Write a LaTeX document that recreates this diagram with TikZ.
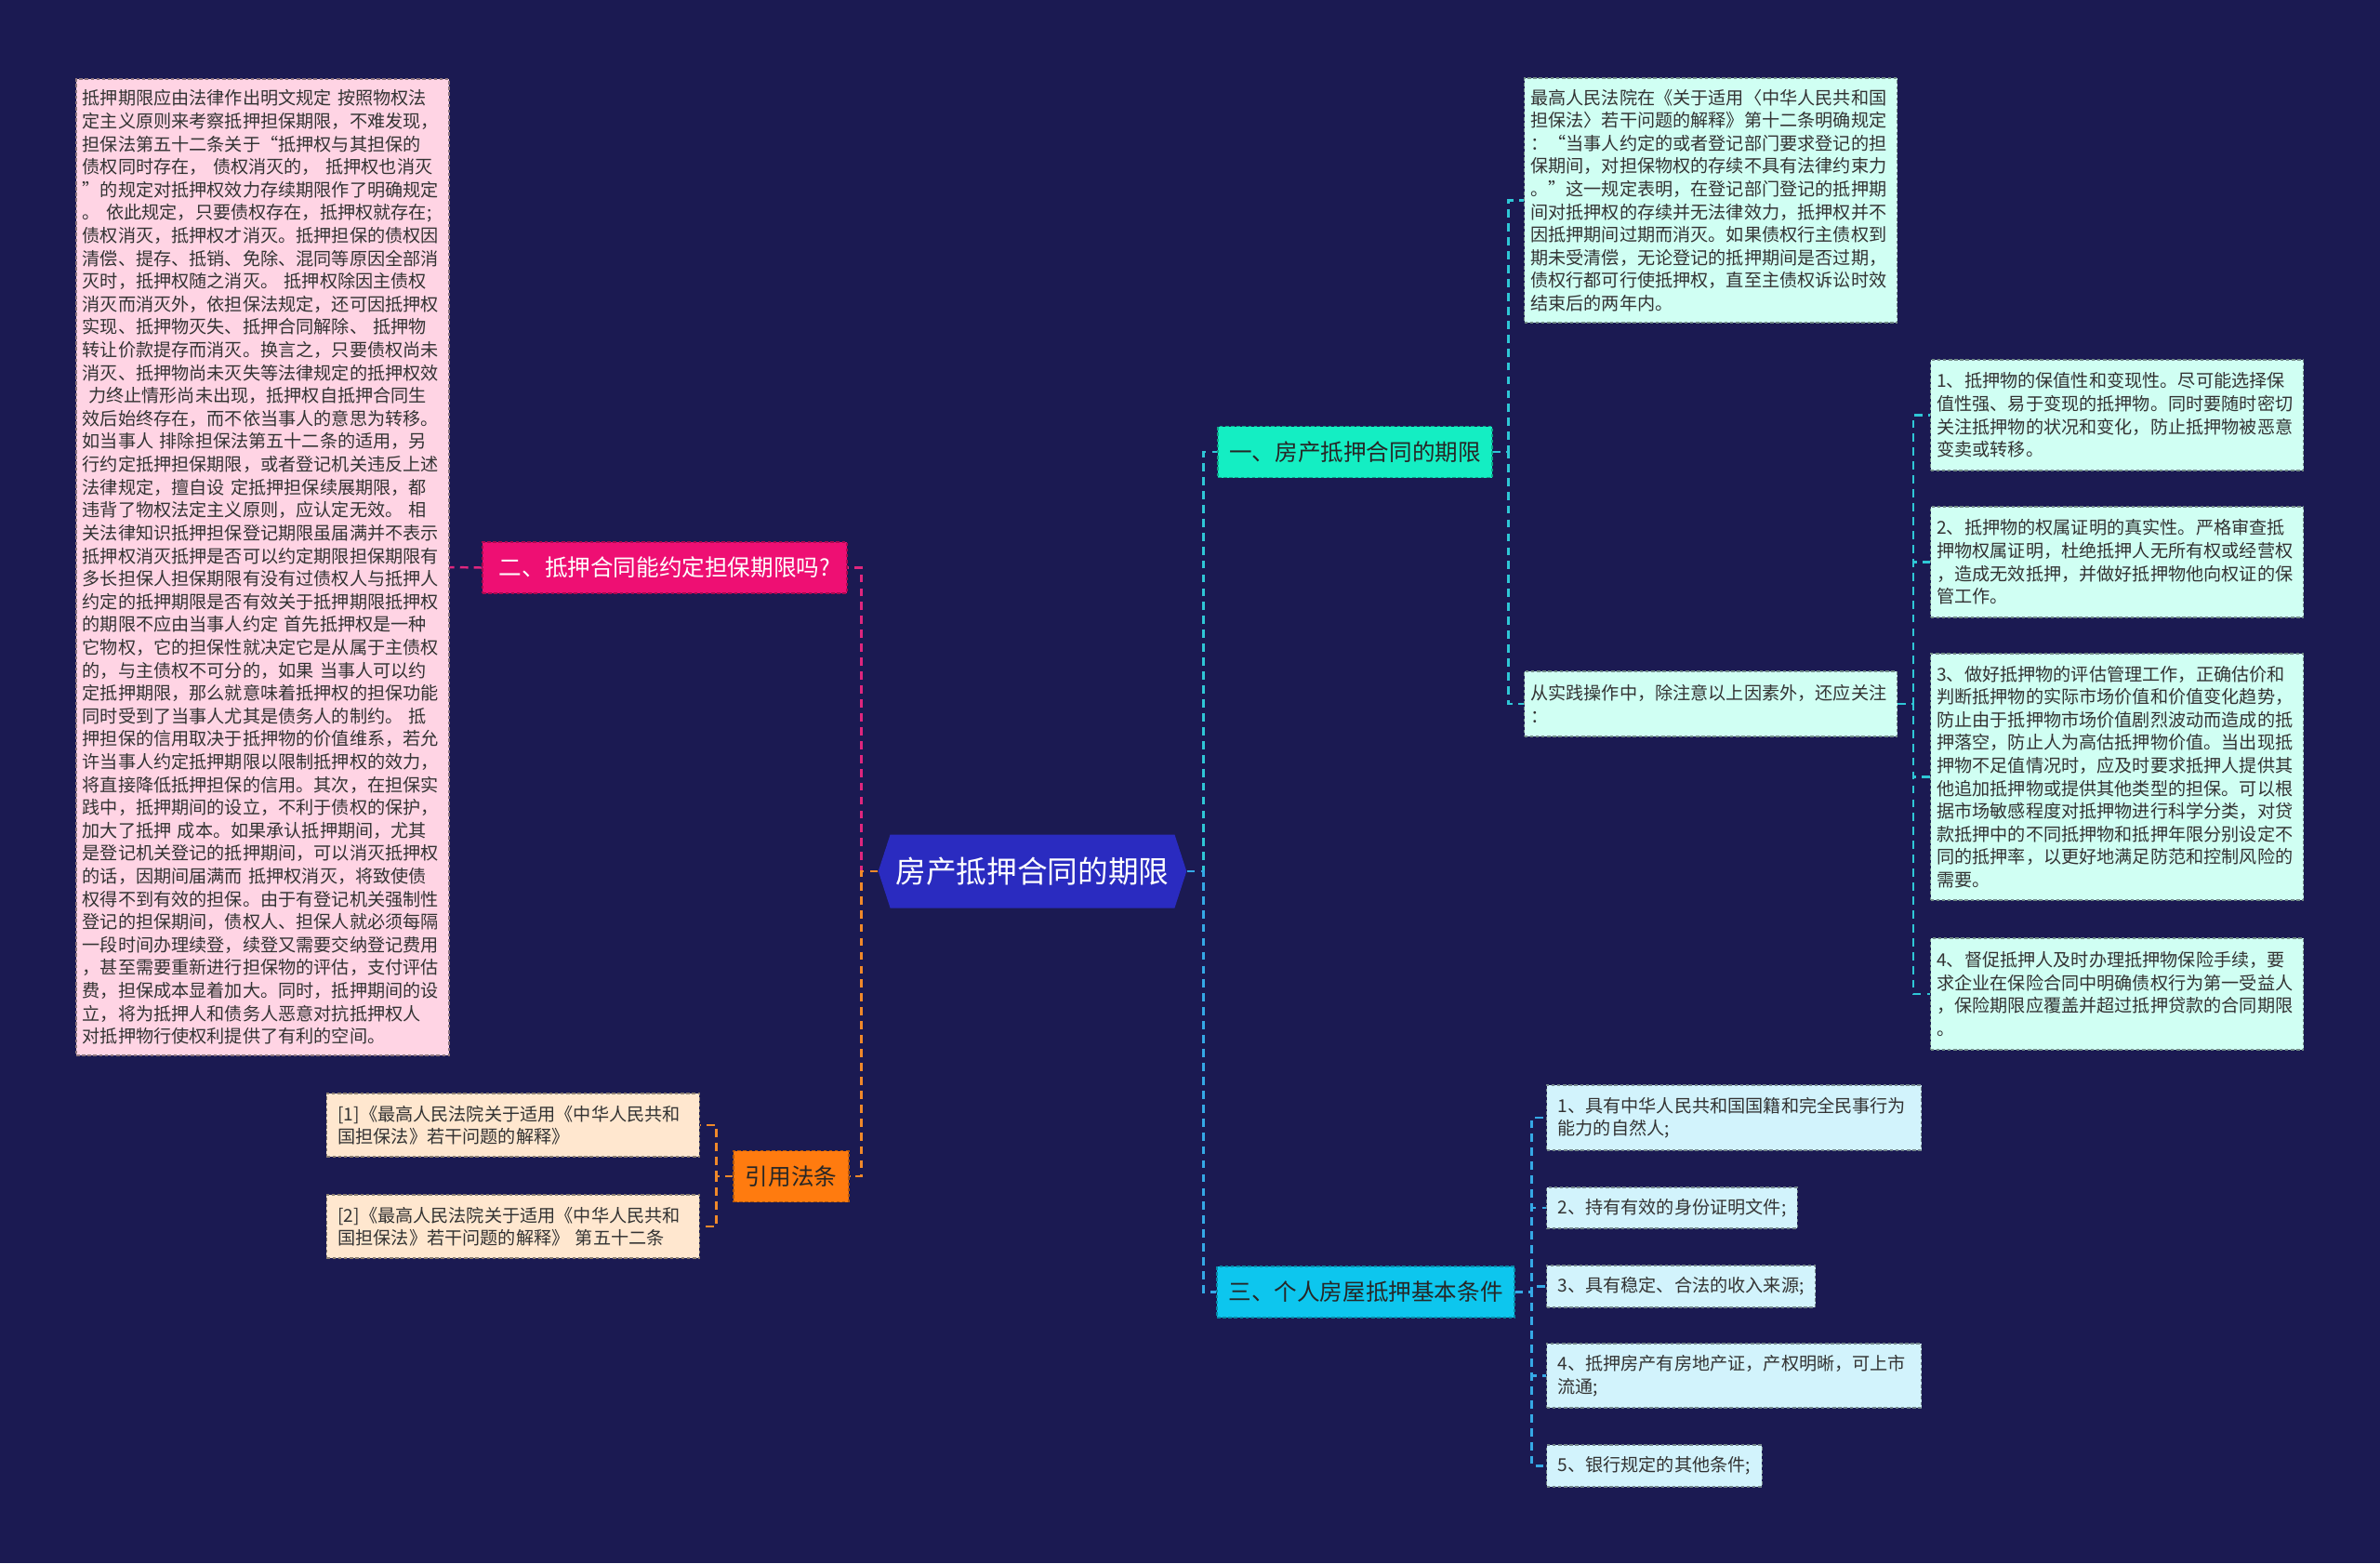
\documentclass[tikz,border=0pt]{standalone}
\usepackage{fontspec}
\setmainfont{Noto Sans CJK SC}
\usetikzlibrary{shapes.symbols}
\definecolor{bgnavy}{HTML}{1B1A52}
\definecolor{rootblue}{HTML}{2A2BC0}
\definecolor{secmint}{HTML}{14EEC3}
\definecolor{secpink}{HTML}{EE0F73}
\definecolor{secorange}{HTML}{FF7B0F}
\definecolor{seccyan}{HTML}{0DC6EE}
\definecolor{memopink}{HTML}{FFD4E4}
\definecolor{memomint}{HTML}{D0FFF3}
\definecolor{memosky}{HTML}{D2F3FC}
\definecolor{memopeach}{HTML}{FFE7CF}
\definecolor{txtdark}{HTML}{333333}
\definecolor{linkteal}{HTML}{2FC7D6}
\definecolor{linksky}{HTML}{35A9E6}
\definecolor{linkpink}{HTML}{E0267E}
\definecolor{linkorange}{HTML}{F0892A}

\begin{document}
\begin{tikzpicture}[
  link/.style={line width=1.4pt, dash pattern=on 5pt off 3.5pt},
  topic/.style={draw, dash pattern=on 2pt off 1.5pt, line width=0.6pt,
    minimum height=1.1cm, inner xsep=0.2cm, text=black!85,
    font=\fontsize{14}{16}\selectfont},
  memo/.style={draw, dash pattern=on 2pt off 1.5pt, line width=0.6pt,
    align=left, inner xsep=0.24cm, inner ysep=0.2cm, text=txtdark,
    font=\fontsize{10.9}{14}\selectfont},
  longmemo/.style={memo, text width=7.75cm, inner xsep=0.135cm}
]
  \useasboundingbox (0,0) rectangle (51.2,-33.62);
  \fill[bgnavy] (0,0) rectangle (51.2,-33.62);

  % Root
  \node[shape=signal, signal to=east and west, signal pointer angle=144,
    fill=rootblue, text=white,
    minimum width=6.54cm, minimum height=1.58cm,
    font=\fontsize{18.6}{20}\selectfont] (root) at (22.21,-18.74)
    {房产抵押合同的期限};

  % Main topics
  \node[topic, fill=secmint, draw=secmint!70!black, minimum width=5.9cm]
    (sec1) at (29.15,-9.72) {一、房产抵押合同的期限};
  \node[topic, fill=secpink, draw=secpink!70!black, text=white,
    minimum width=7.84cm] (sec2) at (14.30,-12.21) {二、抵押合同能约定担保期限吗?};
  \node[topic, fill=seccyan, draw=seccyan!70!black, minimum width=6.4cm]
    (sec3) at (29.38,-27.79) {三、个人房屋抵押基本条件};
  \node[topic, fill=secorange, draw=secorange!70!black, minimum width=2.48cm]
    (cite) at (17.02,-25.30) {引用法条};

  % Section 2 text
  \node[longmemo, fill=memopink, draw=memopink!55!black, minimum height=21cm]
    (p1) at (5.65,-12.2) {抵押期限应由法律作出明文规定 按照物权法\\
定主义原则来考察抵押担保期限，不难发现，\\
担保法第五十二条关于“抵押权与其担保的\\
债权同时存在， 债权消灭的， 抵押权也消灭\\
”的规定对抵押权效力存续期限作了明确规定\\
。 依此规定，只要债权存在，抵押权就存在;\\
债权消灭，抵押权才消灭。抵押担保的债权因\\
清偿、提存、抵销、免除、混同等原因全部消\\
灭时，抵押权随之消灭。 抵押权除因主债权\\
消灭而消灭外，依担保法规定，还可因抵押权\\
实现、抵押物灭失、抵押合同解除、 抵押物\\
转让价款提存而消灭。换言之，只要债权尚未\\
消灭、抵押物尚未灭失等法律规定的抵押权效\\
\ 力终止情形尚未出现，抵押权自抵押合同生\\
效后始终存在，而不依当事人的意思为转移。\\
如当事人 排除担保法第五十二条的适用，另\\
行约定抵押担保期限，或者登记机关违反上述\\
法律规定，擅自设 定抵押担保续展期限，都\\
违背了物权法定主义原则，应认定无效。 相\\
关法律知识抵押担保登记期限虽届满并不表示\\
抵押权消灭抵押是否可以约定期限担保期限有\\
多长担保人担保期限有没有过债权人与抵押人\\
约定的抵押期限是否有效关于抵押期限抵押权\\
的期限不应由当事人约定 首先抵押权是一种\\
它物权，它的担保性就决定它是从属于主债权\\
的，与主债权不可分的，如果 当事人可以约\\
定抵押期限，那么就意味着抵押权的担保功能\\
同时受到了当事人尤其是债务人的制约。 抵\\
押担保的信用取决于抵押物的价值维系，若允\\
许当事人约定抵押期限以限制抵押权的效力，\\
将直接降低抵押担保的信用。其次，在担保实\\
践中，抵押期间的设立，不利于债权的保护，\\
加大了抵押 成本。如果承认抵押期间，尤其\\
是登记机关登记的抵押期间，可以消灭抵押权\\
的话，因期间届满而 抵押权消灭，将致使债\\
权得不到有效的担保。由于有登记机关强制性\\
登记的担保期间，债权人、担保人就必须每隔\\
一段时间办理续登，续登又需要交纳登记费用\\
，甚至需要重新进行担保物的评估，支付评估\\
费，担保成本显着加大。同时，抵押期间的设\\
立，将为抵押人和债务人恶意对抗抵押权人\\
对抵押物行使权利提供了有利的空间。};

  % Section 1 texts
  \node[longmemo, fill=memomint, draw=memomint!55!black, minimum height=5.26cm]
    (a1) at (36.8,-4.31) {最高人民法院在《关于适用〈中华人民共和国\\
担保法〉若干问题的解释》第十二条明确规定\\
：“当事人约定的或者登记部门要求登记的担\\
保期间，对担保物权的存续不具有法律约束力\\
。”这一规定表明，在登记部门登记的抵押期\\
间对抵押权的存续并无法律效力，抵押权并不\\
因抵押期间过期而消灭。如果债权行主债权到\\
期未受清偿，无论登记的抵押期间是否过期，\\
债权行都可行使抵押权，直至主债权诉讼时效\\
结束后的两年内。};
  \node[longmemo, fill=memomint, draw=memomint!55!black, minimum height=1.4cm]
    (a2) at (36.8,-15.14) {从实践操作中，除注意以上因素外，还应关注\\：};

  \node[longmemo, fill=memomint, draw=memomint!55!black, minimum height=2.38cm]
    (b1) at (45.54,-8.93) {1、抵押物的保值性和变现性。尽可能选择保\\
值性强、易于变现的抵押物。同时要随时密切\\
关注抵押物的状况和变化，防止抵押物被恶意\\
变卖或转移。};
  \node[longmemo, fill=memomint, draw=memomint!55!black, minimum height=2.38cm]
    (b2) at (45.54,-12.09) {2、抵押物的权属证明的真实性。严格审查抵\\
押物权属证明，杜绝抵押人无所有权或经营权\\
，造成无效抵押，并做好抵押物他向权证的保\\
管工作。};
  \node[longmemo, fill=memomint, draw=memomint!55!black, minimum height=5.3cm]
    (b3) at (45.54,-16.71) {3、做好抵押物的评估管理工作，正确估价和\\
判断抵押物的实际市场价值和价值变化趋势，\\
防止由于抵押物市场价值剧烈波动而造成的抵\\
押落空，防止人为高估抵押物价值。当出现抵\\
押物不足值情况时，应及时要求抵押人提供其\\
他追加抵押物或提供其他类型的担保。可以根\\
据市场敏感程度对抵押物进行科学分类，对贷\\
款抵押中的不同抵押物和抵押年限分别设定不\\
同的抵押率，以更好地满足防范和控制风险的\\
需要。};
  \node[longmemo, fill=memomint, draw=memomint!55!black, minimum height=2.4cm]
    (b4) at (45.54,-21.38) {4、督促抵押人及时办理抵押物保险手续，要\\
求企业在保险合同中明确债权行为第一受益人\\
，保险期限应覆盖并超过抵押贷款的合同期限\\
。};

  % Section 3 texts
  \node[memo, fill=memosky, draw=memosky!55!black, anchor=west, minimum height=1.4cm,
    text width=7.58cm] (c1) at (33.26,-24.04)
    {1、具有中华人民共和国国籍和完全民事行为\\能力的自然人;};
  \node[memo, fill=memosky, draw=memosky!55!black, anchor=west, minimum height=0.88cm]
    (c2) at (33.26,-25.98) {2、持有有效的身份证明文件;};
  \node[memo, fill=memosky, draw=memosky!55!black, anchor=west, minimum height=0.9cm]
    (c3) at (33.26,-27.67) {3、具有稳定、合法的收入来源;};
  \node[memo, fill=memosky, draw=memosky!55!black, anchor=west, minimum height=1.38cm,
    text width=7.58cm] (c4) at (33.26,-29.59)
    {4、抵押房产有房地产证，产权明晰，可上市\\流通;};
  \node[memo, fill=memosky, draw=memosky!55!black, anchor=west, minimum height=0.9cm]
    (c5) at (33.26,-31.53) {5、银行规定的其他条件;};

  % Citations
  \node[memo, fill=memopeach, draw=memopeach!55!black, anchor=east, minimum height=1.36cm,
    text width=7.54cm] (r1) at (15.06,-24.2)
    {[1]《最高人民法院关于适用《中华人民共和\\国担保法》若干问题的解释》};
  \node[memo, fill=memopeach, draw=memopeach!55!black, anchor=east, minimum height=1.36cm,
    text width=7.54cm] (r2) at (15.06,-26.38)
    {[2]《最高人民法院关于适用《中华人民共和\\国担保法》若干问题的解释》 第五十二条};

  % Right branches
  \draw[link, linkteal] (root.east) -- ++(0.36,0) |- (sec1.west);
  \draw[link, linksky] (root.east) -- ++(0.36,0) |- (sec3.west);
  \foreach \n in {a1,a2}
    \draw[link, linkteal] (sec1.east) -- ++(0.34,0) |- (\n.west);
  \foreach \n in {b1,b2,b3,b4}
    \draw[link, linkteal] (a2.east) -- ++(0.34,0) |- (\n.west);
  \foreach \n in {c1,c2,c3,c4,c5}
    \draw[link, linksky] (sec3.east) -- ++(0.36,0) |- (\n.west);

  % Left branches
  \draw[link, linkpink] (root.west) -- ++(-0.36,0) |- (sec2.east);
  \draw[link, linkorange] (root.west) -- ++(-0.36,0) |- (cite.east);
  \draw[link, linkpink] (sec2.west) -- (p1.east);
  \foreach \n in {r1,r2}
    \draw[link, linkorange] (cite.west) -- ++(-0.36,0) |- (\n.east);
\end{tikzpicture}
\end{document}
